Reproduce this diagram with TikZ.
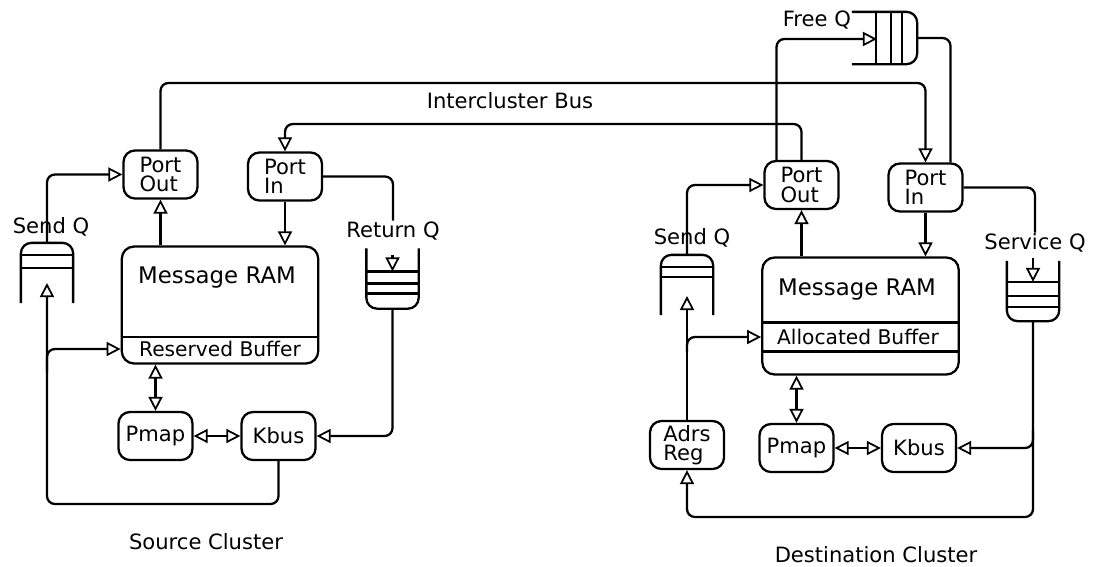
\documentclass[tikz,border=0pt]{standalone}
\usepackage{fontspec}
\setmainfont{DejaVu Sans}
\usetikzlibrary{arrows.meta,calc}

\begin{document}
\begin{tikzpicture}[x=0.02cm,y=-0.02cm,font=\fontsize{12}{13}\selectfont,line width=1.3pt,
box/.style={draw,rounded corners=6.5pt,align=left,inner sep=2pt,minimum width=1.48cm,minimum height=0.96cm,font=\fontsize{12}{11}\selectfont},
ram/.style={draw,rounded corners=7pt,minimum width=3.93cm,minimum height=2.34cm},
qnode/.style={inner sep=0pt,minimum width=1cm,minimum height=1.16cm},
lbl/.style={inner sep=0pt},
big/.style={inner sep=0pt,font=\fontsize{13}{13}\selectfont},
buf/.style={inner sep=0pt,font=\fontsize{11.5}{12}\selectfont},
arr/.style={-{Triangle[open,length=8pt,width=8pt,line width=1pt]},rounded corners=4.5pt},
both/.style={<->,>={Triangle[open,length=8pt,width=8pt,line width=1pt]}}]
\useasboundingbox (0,0) rectangle (1101,566);

% source cluster
\node[box](sportout)at(160.5,174.5){Port\\Out};
\node[box](sportin)at(285,176.5){Port\\In};
\node[ram](sram)at(220,305){};
\node[big](sramtxt)at(217,278){Message RAM};
\draw($(sram.south west)+(0,-28)$)--($(sram.south east)+(0,-28)$);
\node[buf](sbuftxt)at(220,349){Reserved Buffer};
\node[qnode](ssendq)at(47,273){};
\draw[rounded corners=6pt](ssendq.south west)--(ssendq.north west)--(ssendq.north east)--(ssendq.south east);
\draw($(ssendq.north west)+(0,12)$)--($(ssendq.north east)+(0,12)$);
\draw($(ssendq.north west)+(0,25)$)--($(ssendq.north east)+(0,25)$);
\node[lbl](ssendqlbl)at(51,227){Send Q};
\node[qnode](sretq)at(392.5,278.5){};
\draw[rounded corners=6pt](sretq.north west)--(sretq.south west)--(sretq.south east)--(sretq.north east);
\draw($(sretq.north west)+(0,23)$)--($(sretq.north east)+(0,23)$);
\draw($(sretq.north west)+(0,35)$)--($(sretq.north east)+(0,35)$);
\draw($(sretq.north west)+(0,45)$)--($(sretq.north east)+(0,45)$);
\node[lbl](sretqlbl)at(393,231){Return Q};
\node[box](spmap)at(155.5,436){Pmap};
\node[box](skbus)at(278.5,436){Kbus};
\node[lbl](slabel)at(206,542){Source Cluster};
\coordinate(sloop)at(47,504);
\coordinate(ssendqin)at(47,283);
\coordinate(sbranch)at(47,372);

\draw[arr](ssendq.north)|-(sportout.west);
\draw[arr](sportout.south|-sram.north)--(sportout.south);
\draw[arr](sportin.south)--(sportin.south|-sram.north);
\draw[rounded corners=4.5pt](sportin.east)-|(sretqlbl.north);
\draw[arr]($(sretq.north)+(0,7)$)--($(sretq.north)+(0,23)$);
\draw[arr](sretq.south)|-(skbus.east);
\draw[arr](skbus.south)|-(sloop)--(ssendqin);
\draw[arr](sbranch)|-(sram.west|-sbuftxt);
\draw[both](spmap.north|-sram.south)--(spmap.north);
\draw[both](spmap)--(skbus);

% destination cluster
\node[box](dportout)at(801.5,185){Port\\Out};
\node[box](dportin)at(925.5,187.5){Port\\In};
\node[ram](dram)at(860.5,316){};
\node[big](dramtxt)at(857,290){Message RAM};
\draw($(dram.north west)+(0,66)$)--($(dram.north east)+(0,66)$);
\draw($(dram.north west)+(0,95)$)--($(dram.north east)+(0,95)$);
\node[buf](dbuftxt)at(858,337){Allocated Buffer};
\node[qnode](dsendq)at(687,285){};
\draw[rounded corners=6pt](dsendq.south west)--(dsendq.north west)--(dsendq.north east)--(dsendq.south east);
\draw($(dsendq.north west)+(0,12)$)--($(dsendq.north east)+(0,12)$);
\draw($(dsendq.north west)+(0,22)$)--($(dsendq.north east)+(0,22)$);
\node[lbl](dsendqlbl)at(692,238){Send Q};
\node[qnode](dsvcq)at(1033,291){};
\draw[rounded corners=6pt](dsvcq.north west)--(dsvcq.south west)--(dsvcq.south east)--(dsvcq.north east);
\draw($(dsvcq.north west)+(0,21)$)--($(dsvcq.north east)+(0,21)$);
\draw($(dsvcq.north west)+(0,35)$)--($(dsvcq.north east)+(0,35)$);
\draw($(dsvcq.north west)+(0,46)$)--($(dsvcq.north east)+(0,46)$);
\node[lbl](dsvcqlbl)at(1035,243){Service Q};
\node[box](dadrs)at(687,445){Adrs\\Reg};
\node[box](dpmap)at(796.5,448){Pmap};
\node[box](dkbus)at(919,448){Kbus};
\node[lbl](dlabel)at(876,555){Destination Cluster};
\node[qnode,minimum width=1.26cm,minimum height=1cm](dfreeq)at(884.5,38){};
\draw[rounded corners=6pt](dfreeq.north west)--(dfreeq.north east)--(dfreeq.south east)--(dfreeq.south west);
\draw($(dfreeq.north west)+(24,0)$)--($(dfreeq.south west)+(24,0)$);
\draw($(dfreeq.north west)+(39,0)$)--($(dfreeq.south west)+(39,0)$);
\draw($(dfreeq.north west)+(50,0)$)--($(dfreeq.south west)+(50,0)$);
\node[lbl,anchor=east](dfreeqlbl)at(852,20){Free Q};
\coordinate(dloop)at(687,517);
\coordinate(dbranch)at(1033,430);
\coordinate(dsendqin)at(687,296);
\coordinate(dbranch2)at(687,352);
\coordinate(dfreeqin)at(877,39);

\draw[arr](dsendq.north)|-(dportout.west);
\draw[arr](dportout.south|-dram.north)--(dportout.south);
\draw[arr](dportin.south)--(dportin.south|-dram.north);
\draw[rounded corners=4.5pt](dportin.east)-|(dsvcqlbl.north);
\draw[arr]($(dsvcq.north)+(0,-3)$)--($(dsvcq.north)+(0,21)$);
\draw[arr](dsvcq.south)|-(dloop)--(dadrs.south);
\draw[arr](dbranch)|-(dkbus.east);
\draw[arr](dadrs.north)--(dsendqin);
\draw[arr](dbranch2)|-(dram.west|-dbuftxt);
\draw[both](dpmap.north|-dram.south)--(dpmap.north);
\draw[both](dpmap)--(dkbus);
\draw[arr]($(dportout.north)+(-25,0)$)|-(dfreeqin);
\draw[rounded corners=4.5pt](dfreeq.east)-|($(dportin.north)+(25,0)$);

% intercluster bus
\coordinate(bus1)at(540,83);
\coordinate(bus2)at(540,124);
\draw[arr](sportout.north)|-(bus1)-|(dportin.north);
\draw[arr](dportout.north)|-(bus2)-|(sportin.north);
\node[lbl](buslbl)at(510,101){Intercluster Bus};
\end{tikzpicture}
\end{document}
